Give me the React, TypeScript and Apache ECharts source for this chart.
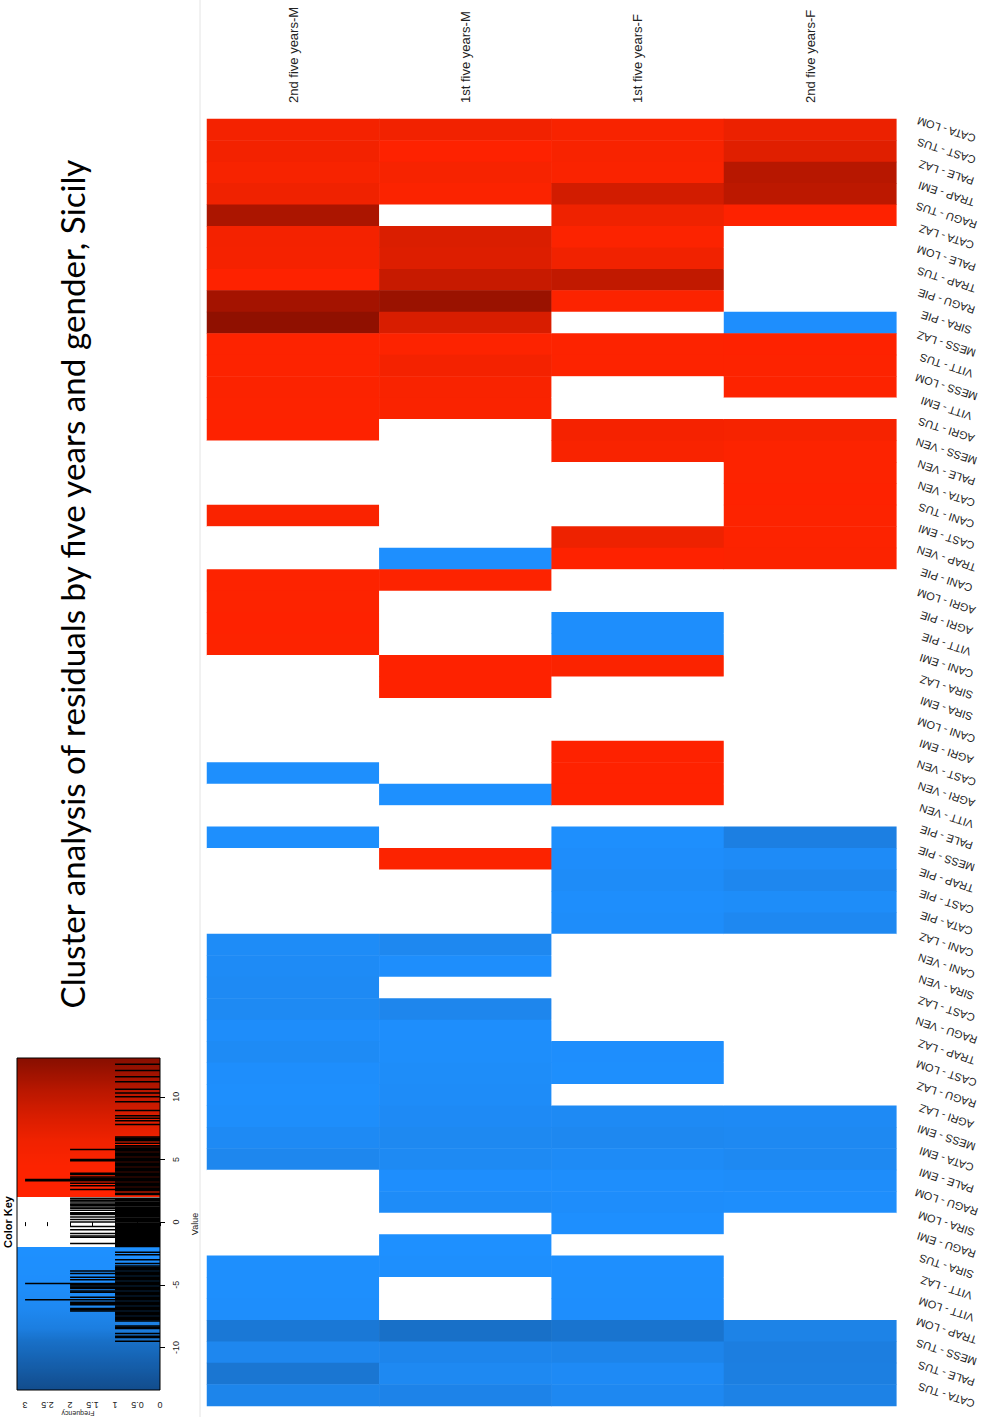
import React, { useEffect, useRef } from 'react';
import * as echarts from 'echarts';

const columns = ['2nd five years-M', '1st five years-M', '1st five years-F', '2nd five years-F'];

const rowLabels = [
  'CATA - LOM', 'CAST - TUS', 'PALE - LAZ', 'TRAP - EMI', 'RAGU - TUS', 'CATA - LAZ', 'PALE - LOM', 'TRAP - TUS',
  'RAGU - PIE', 'SIRA - PIE', 'MESS - LAZ', 'VITT - TUS', 'MESS - LOM', 'VITT - EMI', 'AGRI - TUS', 'MESS - VEN',
  'PALE - VEN', 'CATA - VEN', 'CANI - TUS', 'CAST - EMI', 'TRAP - VEN', 'CANI - PIE', 'AGRI - LOM', 'AGRI - PIE',
  'VITT - PIE', 'CANI - EMI', 'SIRA - LAZ', 'SIRA - EMI', 'CANI - LOM', 'AGRI - EMI', 'CAST - VEN', 'AGRI - VEN',
  'VITT - VEN', 'PALE - PIE', 'MESS - PIE', 'TRAP - PIE', 'CAST - PIE', 'CATA - PIE', 'CANI - LAZ', 'CANI - VEN',
  'SIRA - VEN', 'CAST - LAZ', 'RAGU - VEN', 'TRAP - LAZ', 'CAST - LOM', 'RAGU - LAZ', 'AGRI - LAZ', 'MESS - EMI',
  'CATA - EMI', 'PALE - EMI', 'RAGU - LOM', 'SIRA - LOM', 'RAGU - EMI', 'SIRA - TUS', 'VITT - LAZ', 'VITT - LOM',
  'TRAP - LOM', 'MESS - TUS', 'PALE - TUS', 'CATA - TUS',
];

// residuals, one array per column (row order as rowLabels)
const secondM = [
  5.9, 6.0, 5.4, 6.5, 11.2, 5.8, 5.7, 2.7, 11.6, 12.6,
  3.6, 3.8, 4.1, 3.5, 3.2, -0.93, -1.72, 0.77, 4.9, -1.93,
  1.41, 3.9, 3.3, 2.8, 3.4, 0.91, -0.52, 1.73, -0.08, 0.63,
  -3.6, -0.33, 1.13, -4.1, -1.24, 0.38, -1.46, 1.0, -5.8, -6.0,
  -6.3, -6.5, -5.4, -6.1, -5.0, -4.2, -5.1, -6.4, -7.2, -0.42,
  1.33, -1.61, -0.01, -3.7, -4.0, -4.6, -8.9, -7.1, -9.1, -7.5,
];
const firstM = [
  6.1, 2.9, 5.3, 4.6, 1.35, 8.3, 8.1, 9.6, 12.1, 8.5,
  3.9, 5.8, 5.0, 4.8, 0.58, 1.47, 0.31, -0.44, 1.22, 0.07,
  -3.0, 3.6, -1.53, 0.49, -0.71, 3.1, 2.6, -1.12, 1.78, -1.64,
  0.22, -2.6, -1.9, 1.59, 4.3, -0.58, 1.88, -1.69, -7.0, -4.6,
  1.44, -7.3, -4.7, -5.1, -5.5, -5.7, -6.2, -6.8, -6.5, -4.5,
  -5.6, 0.74, -2.4, -3.9, 1.08, -1.84, -9.5, -7.4, -6.6, -7.7,
];
const firstF = [
  5.2, 5.1, 4.9, 8.9, 6.6, 4.5, 6.3, 10.0, 4.2, -1.41,
  3.3, 3.4, 1.12, -0.27, 5.6, 5.0, -1.18, 1.86, -0.81, 6.7,
  2.6, -0.16, 0.97, -4.8, -5.0, 4.7, 1.28, 0.42, -0.88, 2.5,
  2.2, 2.3, 0.72, -3.9, -5.2, -5.6, -4.9, -5.3, 0.27, -1.0,
  0.93, -0.67, 1.69, -4.4, -3.8, 1.57, -6.4, -7.0, -6.0, -4.9,
  -5.2, -3.3, -1.15, -3.5, -4.1, -4.4, -9.2, -7.6, -6.2, -6.9,
];
const secondF = [
  6.8, 7.8, 10.6, 10.3, 3.1, 0.85, -0.62, 1.62, 0.18, -4.3,
  3.0, 4.0, 3.7, 1.83, 5.5, 3.3, 3.5, 2.9, 3.8, 3.4,
  4.4, 0.68, -1.04, 1.68, 0.02, -1.32, -1.81, 1.04, -0.37, 1.52,
  -1.08, 0.81, -0.77, -8.3, -5.9, -7.1, -5.5, -6.9, 1.18, -0.21,
  -1.49, 0.54, -1.22, 0.12, -0.91, 0.6, -6.2, -6.6, -6.7, -5.3,
  -4.9, -0.28, 1.9, -0.57, 0.44, 1.39, -7.8, -8.5, -8.4, -7.9,
];

const keyValueTicks = [-10, -5, 0, 5, 10];
const frequencyTicks = [0, 0.5, 1, 1.5, 2, 2.5, 3];

const VMIN = -13.4;
const VMAX = 13.1;

const RED_STOPS: [number, number[]][] = [
  [2, [255, 34, 0]], [4.5, [252, 35, 0]], [6.5, [240, 34, 0]], [8.5, [216, 29, 0]],
  [10.5, [185, 23, 0]], [12.6, [144, 16, 0]], [13.1, [136, 14, 0]],
];
const BLUE_STOPS: [number, number[]][] = [
  [-13.4, [18, 76, 140]], [-9.5, [24, 112, 200]], [-8.5, [28, 126, 224]], [-7, [30, 136, 240]],
  [-5, [30, 142, 252]], [-2, [30, 144, 255]],
];

function rgb(c: number[]): string {
  return 'rgb(' + c.map((x) => Math.round(x)).join(',') + ')';
}
function interp(stops: [number, number[]][], v: number): string {
  if (v <= stops[0][0]) return rgb(stops[0][1]);
  for (let i = 1; i < stops.length; i++) {
    if (v <= stops[i][0]) {
      const [a, ca] = stops[i - 1];
      const [b, cb] = stops[i];
      const t = (v - a) / (b - a);
      return rgb(ca.map((c, j) => c + (cb[j] - c) * t));
    }
  }
  return rgb(stops[stops.length - 1][1]);
}
function colorAt(v: number): string {
  if (v > -2 && v < 2) return '#ffffff';
  if (v >= 2) return interp(RED_STOPS, v);
  return interp(BLUE_STOPS, v);
}

export default function App() {
  const ref = useRef<HTMLDivElement>(null);
  useEffect(() => {
    if (!ref.current) return;
    const chart = echarts.init(ref.current, undefined, { renderer: 'svg' });

    const cols = [secondM, firstM, firstF, secondF];
    const cells: number[][] = [];
    cols.forEach((arr, ci) => arr.forEach((v, ri) => cells.push([ci, ri, v])));

    // visual scale (fine steps so the white band edges stay sharp)
    const N = 2650;
    const scaleColors: string[] = [];
    for (let i = 0; i <= N; i++) scaleColors.push(colorAt(VMIN + (i * (VMAX - VMIN)) / N));

    // color-key gradient, top = VMAX
    const span = VMAX - VMIN;
    const gradStops: { offset: number; color: string }[] = [];
    const pushStop = (v: number, c: string) => gradStops.push({ offset: (VMAX - v) / span, color: c });
    for (let v = VMAX; v > 2.0001; v -= 0.1) pushStop(v, colorAt(v));
    pushStop(2, colorAt(2));
    pushStop(1.999, '#ffffff');
    pushStop(-1.999, '#ffffff');
    for (let v = -2; v >= VMIN - 0.0001; v -= 0.1) pushStop(v, colorAt(v));
    pushStop(VMIN, colorAt(VMIN));

    // histogram of all cell values (bin width 0.05)
    const bw = 0.05;
    const counts = new Map<number, number>();
    cols.forEach((arr) => arr.forEach((v) => {
      const k = Math.round(v / bw);
      counts.set(k, (counts.get(k) || 0) + 1);
    }));
    const hist = Array.from(counts.entries()).map(([k, c]) => [c, (k - 0.5) * bw, (k + 0.5) * bw]);

    const font = 'Liberation Sans';
    const baseGraphics: any[] = [
      { type: 'line', shape: { x1: 200, y1: 0, x2: 200, y2: 1417 }, style: { stroke: '#e4e4e4', lineWidth: 1 } },
      {
        type: 'text', x: 72, y: 584, rotation: Math.PI / 2,
        style: {
          text: 'Cluster analysis of residuals by five years and gender, Sicily',
          fontSize: 33.2, fontFamily: 'Lato', fill: '#000', align: 'center', verticalAlign: 'middle',
        },
      },
      {
        type: 'text', x: 8, y: 1222, rotation: Math.PI / 2,
        style: { text: 'Color Key', fontSize: 11, fontWeight: 'bold', fontFamily: font, fill: '#000', align: 'center', verticalAlign: 'middle' },
      },
      {
        type: 'text', x: 78, y: 1413, rotation: Math.PI,
        style: { text: 'Frequency', fontSize: 7, fontFamily: font, fill: '#222', align: 'center', verticalAlign: 'middle' },
      },
    ];

    chart.setOption({
      animation: false,
      backgroundColor: '#ffffff',
      grid: [
        { left: 207, top: 119, width: 690, height: 1287 },
        {
          left: 17, top: 1058, width: 143, height: 332, show: true,
          backgroundColor: new echarts.graphic.LinearGradient(0, 0, 0, 1, gradStops),
          borderColor: '#000', borderWidth: 1,
        },
      ],
      xAxis: [
        {
          type: 'category', gridIndex: 0, data: columns, position: 'top',
          axisLine: { show: false }, axisTick: { show: false }, splitLine: { show: false },
          axisLabel: { show: false },
        },
        {
          type: 'value', gridIndex: 1, inverse: true, min: 0, max: 3.18, position: 'bottom',
          axisLine: { show: false }, splitLine: { show: false },
          axisTick: { show: true, customValues: frequencyTicks, length: 4, lineStyle: { color: '#000' } },
          axisLabel: {
            customValues: frequencyTicks, rotate: 180, align: 'center', verticalAlign: 'middle', margin: 15,
            fontSize: 9, fontFamily: font, color: '#222',
          },
        },
      ],
      yAxis: [
        {
          type: 'category', gridIndex: 0, data: rowLabels, inverse: true, position: 'right',
          axisLine: { show: false }, axisTick: { show: false }, splitLine: { show: false },
          axisLabel: {
            interval: 0, rotate: 162, align: 'center', verticalAlign: 'middle', margin: 50,
            fontSize: 11, fontFamily: font, color: '#222',
          },
        },
        {
          type: 'value', gridIndex: 1, min: VMIN, max: VMAX, position: 'right',
          axisLine: { show: false }, splitLine: { show: false },
          axisTick: { show: true, customValues: keyValueTicks, length: 5, lineStyle: { color: '#000' } },
          axisLabel: {
            customValues: keyValueTicks, rotate: 90, align: 'center', verticalAlign: 'middle', margin: 16,
            fontSize: 9, fontFamily: font, color: '#222',
          },
          name: 'Value', nameLocation: 'middle', nameRotate: 90, nameGap: 30,
          nameTextStyle: { fontSize: 9, fontFamily: font, color: '#222' },
        },
      ],
      visualMap: {
        type: 'continuous', show: false, seriesIndex: 0, dimension: 2,
        min: VMIN, max: VMAX, inRange: { color: scaleColors },
      },
      series: [
        {
          type: 'heatmap', xAxisIndex: 0, yAxisIndex: 0, data: cells,
          itemStyle: { borderWidth: 0 }, emphasis: { disabled: true },
        },
        {
          type: 'custom', xAxisIndex: 1, yAxisIndex: 1, data: hist, clip: false,
          encode: { x: 0, y: [1, 2] },
          renderItem: (params: any, api: any) => {
            const c = api.value(0);
            const lo = api.value(1);
            const hi = api.value(2);
            const a = api.coord([0, hi]);
            const b = api.coord([c, lo]);
            const x = Math.min(a[0], b[0]);
            const w = Math.abs(b[0] - a[0]);
            const h = Math.max(Math.abs(b[1] - a[1]), 1.5);
            const yc = (a[1] + b[1]) / 2;
            return { type: 'rect', shape: { x, y: yc - h / 2, width: w, height: h }, style: { fill: '#000' } };
          },
        },
      ],
      graphic: baseGraphics,
    });

    // column header labels, placed from the category axis scale
    const r0 = chart.convertToPixel({ yAxisIndex: 0 }, rowLabels[0]) as number;
    const r1 = chart.convertToPixel({ yAxisIndex: 0 }, rowLabels[1]) as number;
    const gridTop = r0 - (r1 - r0) / 2;
    const headers = columns.map((c) => ({
      type: 'text',
      x: chart.convertToPixel({ xAxisIndex: 0 }, c) as number,
      y: gridTop - 16,
      rotation: Math.PI / 2,
      style: { text: c, fontSize: 13, fontFamily: font, fill: '#222', align: 'left', verticalAlign: 'middle' },
    }));
    chart.setOption({ graphic: [...baseGraphics, ...headers] });

    return () => chart.dispose();
  }, []);
  return <div ref={ref} style={{ position: 'absolute', left: 0, top: 0, width: 982, height: 1417 }} />;
}
